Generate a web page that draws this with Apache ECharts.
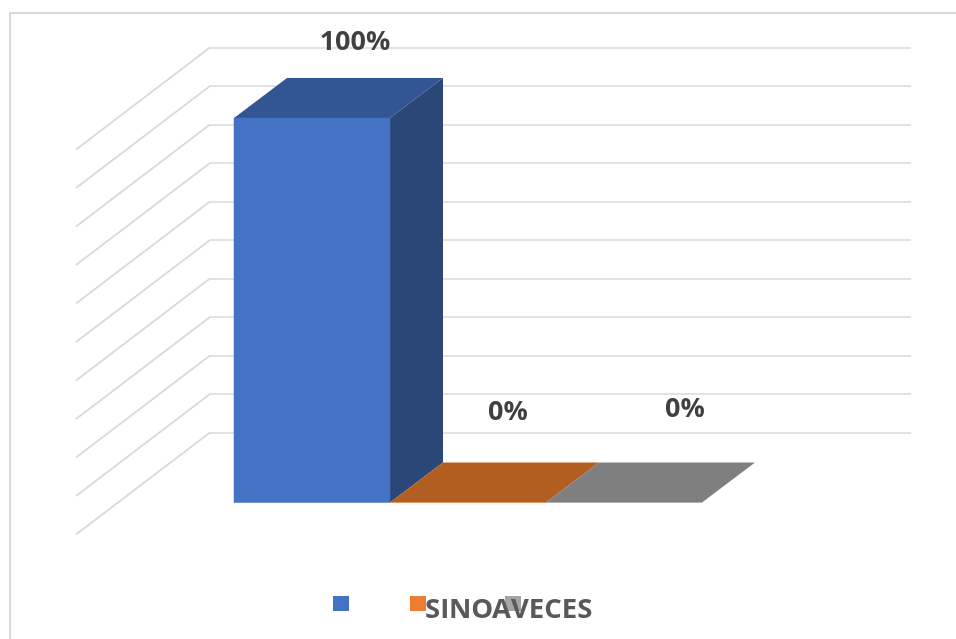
<!DOCTYPE html>
<html>
<head>
<meta charset="utf-8">
<style>html,body{margin:0;padding:0;background:#fff}#c{width:956px;height:639px}</style>
<script src="https://cdn.jsdelivr.net/npm/echarts@6/dist/echarts.min.js"></script>
</head>
<body>
<div id="c"></div>
<script>
const categories = ['SI', 'NO', 'AVECES'];
const values = [100, 0, 0];
const wallTicks = [0, 10, 20, 30, 40, 50, 60, 70, 80, 90, 100];

const frontColors = ['#4472C4', '#ED7D31', '#A5A5A5'];
const topColors = ['#335593', '#B35E21', '#7F7F7F'];
const sideColors = ['#2A4777', '#9E5220', '#6E6E6E'];
const labelShift = [[43, -76], [40, -90], [61, -93]];
const iconLeft = [333, 410, 505];
const textLeft = [425, 449, 492];
const depth = [53, -40];
const sideWall = [-134, 102];

const font = '"Open Sans", "Noto Sans", sans-serif';
const chart = echarts.init(document.getElementById('c'), null, { renderer: 'canvas' });

function barRenderer(idx) {
  return function (params, api) {
    const top = api.coord([api.value(0), api.value(1)]);
    const base = api.coord([api.value(0), 0]);
    const w = api.size([1, 0])[0];
    const l = top[0] - w / 2, r = top[0] + w / 2;
    const dx = depth[0], dy = depth[1];
    const cx = top[0] + labelShift[idx][0];
    const cy = top[1] + labelShift[idx][1];
    return {
      type: 'group',
      children: [
        { type: 'polygon', shape: { points: [[r, top[1]], [r + dx, top[1] + dy], [r + dx, base[1] + dy], [r, base[1]]] },
          style: { fill: sideColors[idx] } },
        { type: 'polygon', shape: { points: [[l, top[1]], [l + dx, top[1] + dy], [r + dx, top[1] + dy], [r, top[1]]] },
          style: { fill: topColors[idx] } },
        { type: 'rect', shape: { x: l, y: top[1], width: w, height: base[1] - top[1] },
          style: { fill: frontColors[idx], stroke: frontColors[idx], lineWidth: 0.5, opacity: api.value(1) > 0 ? 1 : 0.6 } },
        { type: 'text', style: { x: cx, y: cy, text: api.value(1) + '%', fill: '#404040',
            font: 'bold 27px ' + font, textAlign: 'center', textVerticalAlign: 'middle' } }
      ]
    };
  };
}

const legends = [];
categories.forEach(function (name, i) {
  legends.push({ data: [name], left: iconLeft[i], top: 596, icon: 'rect', itemWidth: 16, itemHeight: 15,
    formatter: function () { return ''; }, selectedMode: false, padding: 0 });
});
categories.forEach(function (name, i) {
  legends.push({ data: [name], left: textLeft[i] - 5, top: 596, icon: 'rect', itemWidth: 0, itemHeight: 0,
    selectedMode: false, padding: 0,
    textStyle: { color: '#595959', fontSize: 27.5, fontWeight: 'bold', fontFamily: font } });
});

const series = [{
  name: 'wall',
  type: 'custom',
  xAxisIndex: 0, yAxisIndex: 0,
  silent: true,
  clip: false,
  data: wallTicks.map(function (t) { return [0, t]; }),
  renderItem: function (params, api) {
    const p = api.coord([api.value(0), api.value(1)]);
    return { type: 'line', shape: { x1: p[0], y1: p[1], x2: p[0] + sideWall[0], y2: p[1] + sideWall[1] },
      style: { stroke: '#D9D9D9', lineWidth: 1.7 } };
  }
}];
categories.forEach(function (name, i) {
  series.push({
    name: name,
    type: 'custom',
    xAxisIndex: 1, yAxisIndex: 1,
    clip: false,
    itemStyle: { color: frontColors[i] },
    encode: { x: 0, y: 1 },
    data: [[i, values[i]]],
    renderItem: barRenderer(i)
  });
});

chart.setOption({
  animation: false,
  backgroundColor: '#fff',
  graphic: [{ type: 'polyline', silent: true, z: -1,
    shape: { points: [[10, 639], [10, 13], [956, 13]] },
    style: { stroke: '#D9D9D9', lineWidth: 2, fill: 'none' } }],
  legend: legends,
  grid: [
    { left: 210, top: 47.5, width: 701, height: 385 },
    { left: 234, top: 118, width: 468, height: 384.5 }
  ],
  xAxis: [
    { type: 'value', gridIndex: 0, min: 0, max: 1, show: false },
    { type: 'category', gridIndex: 1, data: categories, show: false, boundaryGap: true }
  ],
  yAxis: [
    { type: 'value', gridIndex: 0, min: 0, max: 100, interval: 10,
      axisLine: { show: false }, axisTick: { show: false }, axisLabel: { show: false },
      splitLine: { show: true, lineStyle: { color: '#D9D9D9', width: 1.7 } } },
    { type: 'value', gridIndex: 1, min: 0, max: 100, interval: 10, show: false, splitLine: { show: false } }
  ],
  series: series
});
</script>
</body>
</html>
